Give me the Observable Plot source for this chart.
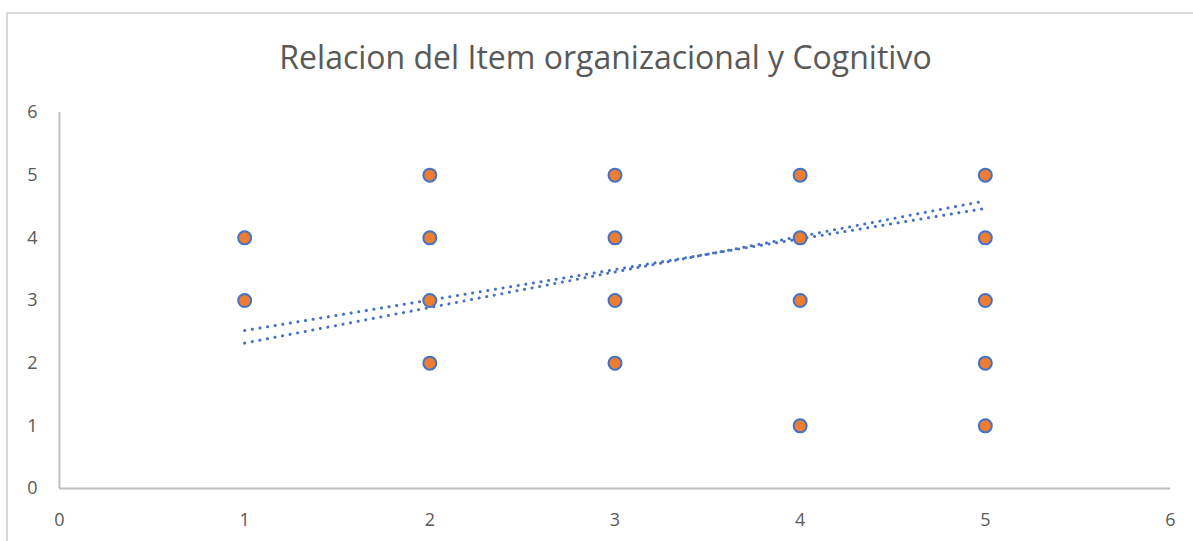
<!DOCTYPE html>
<html>
<head>
<meta charset="utf-8">
<script src="https://cdn.jsdelivr.net/npm/d3@7"></script>
<script src="https://cdn.jsdelivr.net/npm/@observablehq/plot@0.6"></script>
<style>
  html, body { margin: 0; padding: 0; background: #fff; }
  #wrap { position: relative; width: 1193px; height: 541px; overflow: hidden; font-family: "Open Sans", "Liberation Sans", sans-serif; }
  #frame { position: absolute; left: 6px; top: 12px; width: 1300px; height: 700px; border: 2px solid #d9d9d9; box-sizing: border-box; }
  #title { position: absolute; left: 0; top: 0; width: 1211px; height: 90px; text-align: center; line-height: 114px; font-size: 32px; color: #595959; }
  #chart { position: absolute; left: 0; top: 90px; }
</style>
</head>
<body>
<div id="wrap">
  <div id="frame"></div>
  <div id="title">Relacion del Item organizacional y Cognitivo</div>
  <div id="chart"></div>
</div>
<script>
// Points (Item organizacional vs Cognitivo)
const xValues = [1, 1, 2, 2, 2, 2, 3, 3, 3, 3, 4, 4, 4, 4, 5, 5, 5, 5, 5];
const yValues = [3, 4, 2, 3, 4, 5, 2, 3, 4, 5, 1, 3, 4, 5, 1, 2, 3, 4, 5];
// Two linear trend lines (endpoint values)
const trendX = [1, 5];
const trendA = [2.52, 4.47];
const trendB = [2.32, 4.59];
const xTicks = [0, 1, 2, 3, 4, 5, 6];
const yTicks = [0, 1, 2, 3, 4, 5, 6];

const points = xValues.map((x, i) => ({x, y: yValues[i]}));
const trends = [
  ...trendX.map((x, i) => ({x, y: trendA[i], s: "A"})),
  ...trendX.map((x, i) => ({x, y: trendB[i], s: "B"}))
];

const chart = Plot.plot({
  width: 1193,
  height: 451,
  marginLeft: 59,
  marginRight: 23,
  marginTop: 22,
  marginBottom: 53,
  style: {fontFamily: "'Open Sans', 'Liberation Sans', sans-serif", fontSize: "18px", color: "#595959", background: "transparent"},
  x: {domain: [0, 6], ticks: xTicks, tickFormat: "d", tickSize: 0, tickPadding: 25, label: null},
  y: {domain: [0, 6], ticks: yTicks, tickFormat: "d", tickSize: 0, tickPadding: 22, label: null},
  marks: [
    Plot.ruleX([0], {stroke: "#bfbfbf", strokeWidth: 2}),
    Plot.ruleY([0], {stroke: "#bfbfbf", strokeWidth: 2, x1: 0, x2: 6}),
    Plot.line(trends, {x: "x", y: "y", z: "s", stroke: "#4472C4", strokeWidth: 3, strokeDasharray: "0.1,7.6", strokeLinecap: "round"}),
    Plot.dot(points, {x: "x", y: "y", r: 6.5, fill: "#ED7D31", stroke: "#4472C4", strokeWidth: 2, fillOpacity: 1})
  ]
});
document.getElementById("chart").appendChild(chart);
</script>
</body>
</html>
